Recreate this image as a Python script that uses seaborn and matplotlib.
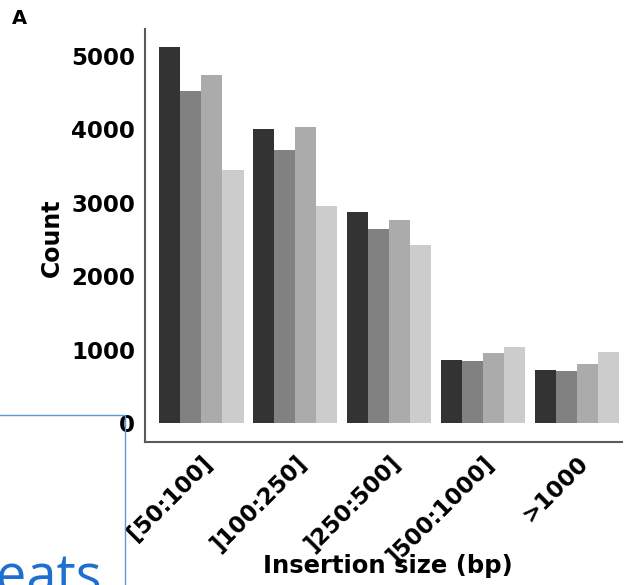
import pandas as pd
import matplotlib
matplotlib.use('Agg')
import matplotlib.pyplot as plt
from matplotlib.lines import Line2D
import seaborn as sns

# data
bins = ['[50:100]', ']100:250]', ']250:500]', ']500:1000]', '>1000']
series = ['S1', 'S2', 'S3', 'S4']
s1 = [5130, 4000, 2870, 858, 722]
s2 = [4520, 3715, 2643, 843, 708]
s3 = [4740, 4030, 2765, 953, 804]
s4 = [3445, 2955, 2425, 1036, 966]
grey_colors = ['#333333', '#818181', '#ababab', '#cccccc']

rows = []
for name, vals in zip(series, [s1, s2, s3, s4]):
    for b, v in zip(bins, vals):
        rows.append({'bin': b, 'series': name, 'count': v})
df = pd.DataFrame(rows)

sns.set_style('white')
plt.rcParams['font.family'] = ['DejaVu Sans']
plt.rcParams['text.color'] = 'black'
plt.rcParams['axes.labelcolor'] = 'black'
plt.rcParams['xtick.labelcolor'] = 'black'
plt.rcParams['ytick.labelcolor'] = 'black'

fig = plt.figure(figsize=(6.24, 5.85), dpi=100)
ax = fig.add_axes([145 / 624, 1 - 442 / 585, 477 / 624, 413 / 585])

sns.barplot(data=df, x='bin', y='count', hue='series', order=bins,
            hue_order=series, palette=grey_colors, width=0.9, gap=0,
            linewidth=0, saturation=1, ax=ax, legend=False)

ax.set_xlim(-0.6, 4.48)
ax.set_ylim(-260, 5370)
ax.set_yticks([0, 1000, 2000, 3000, 4000, 5000])

for side in ['top', 'right']:
    ax.spines[side].set_visible(False)
for side in ['left', 'bottom']:
    ax.spines[side].set_color('#5a5a5a')
    ax.spines[side].set_linewidth(1.5)

ax.tick_params(axis='both', direction='out', length=4, width=1,
               color='#5a5a5a', labelsize=16.5, pad=3)
for lab in ax.get_yticklabels():
    lab.set_fontweight('bold')
for lab in ax.get_xticklabels():
    lab.set_fontweight('bold')
    lab.set_rotation(45)
    lab.set_ha('right')
    lab.set_va('top')
    lab.set_rotation_mode('anchor')

ax.set_xlabel('Insertion size (bp)', fontsize=17.5, fontweight='bold')
ax.set_ylabel('Count', fontsize=17, fontweight='bold')
ax.xaxis.set_label_coords(0.509, -0.272)
ax.yaxis.set_label_coords(-0.17, 0.494)

fig.text(12 / 624, 1 - 24 / 585, 'A', fontsize=14, fontweight='bold',
         ha='left', va='baseline')

# overlay box from the source page
fig.add_artist(Line2D([0, 125 / 624], [1 - 415 / 585, 1 - 415 / 585],
                      color='#5b9bd5', linewidth=1))
fig.add_artist(Line2D([125 / 624, 125 / 624], [1 - 415 / 585, 0],
                      color='#5b9bd5', linewidth=1))
fig.text(-4 / 624, 1 - 593 / 585, 'eats', fontsize=39, color='#1f6fd0',
         family=['Open Sans', 'DejaVu Sans'], ha='left', va='baseline')

fig.savefig('out.png', dpi=100)
